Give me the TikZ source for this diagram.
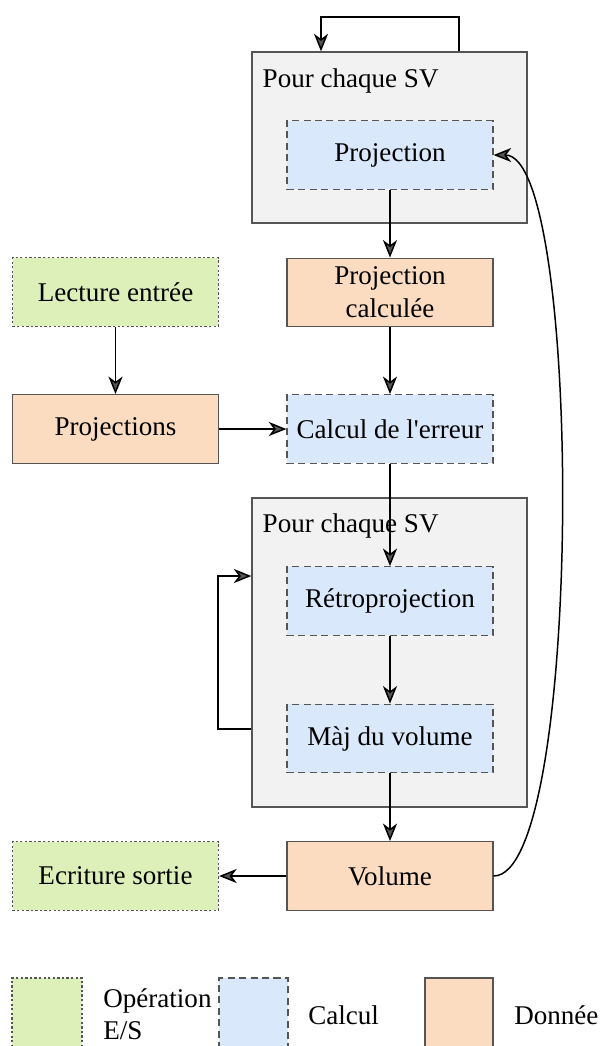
\documentclass[tikz,border=0pt]{standalone}
\usepackage{fontspec}
\setmainfont{Liberation Serif}
\usepackage{tikz}
\usetikzlibrary{
	arrows.meta,
	positioning,
	calc
}
\usepackage{xcolor}

\definecolor{ioGreen}{HTML}{DEF0B9}
\definecolor{calcBlue}{HTML}{DAE8FC}
\definecolor{dataOrange}{HTML}{FBDCC0}
\definecolor{groupGrey}{HTML}{F2F2F2}
\definecolor{edgeGrey}{HTML}{555555}

\tikzset{
	box/.style={rectangle, draw=edgeGrey, line width=0.75pt, minimum width=4.12cm, minimum height=1.37cm, inner sep=2pt, align=center, font=\fontsize{15.4}{18.7}\selectfont},
	iobox/.style={box, fill=ioGreen, dash pattern=on 1.3pt off 1.3pt},
	calcbox/.style={box, fill=calcBlue, dash pattern=on 4pt off 2.5pt},
	databox/.style={box, fill=dataOrange},
	groupbox/.style={rectangle, draw=edgeGrey, fill=groupGrey, line width=0.75pt, minimum width=5.5cm},
	grouplabel/.style={anchor=west, inner sep=0pt, font=\fontsize{15.4}{18.7}\selectfont},
	legendtext/.style={anchor=west, inner sep=0pt, align=left, font=\fontsize{15.4}{18.4}\selectfont},
	flow/.style={line width=0.85pt, -{Stealth[length=10pt, width=8pt, inset=3pt, fill=edgeGrey]}}
}

\begin{document}
\begin{tikzpicture}[x=0.02cm, y=-0.02cm]
		
		\clip (0,0) rectangle (601,1046);
		
		% groupes
		\node[groupbox, minimum height=3.42cm] (grp1) at (389.5,137.5) {};
		\node[grouplabel] (grp1lbl) at ([shift={(11,30)}]grp1.north west) {Pour chaque SV};
		\node[groupbox, minimum height=6.18cm] (grp2) at (389.5,652.5) {};
		\node[grouplabel] (grp2lbl) at ([shift={(11,29)}]grp2.north west) {Pour chaque SV};
		
		% noeuds
		\node[calcbox] (proj) at (390,155) {Projection};
		\node[databox] (projcalc) at (390,292.5) {Projection\\calculée};
		\node[iobox] (lecture) at (115.5,292) {Lecture entrée};
		\node[databox] (projs) at (115.5,429) {Projections};
		\node[calcbox] (calcul) at (390,429) {Calcul de l\textquotesingle erreur};
		\node[calcbox] (retro) at (390,601) {Rétroprojection};
		\node[calcbox] (maj) at (390,738.5) {Màj du volume};
		\node[databox] (volume) at (390,876) {Volume};
		\node[iobox] (ecriture) at (115.5,876) {Ecriture sortie};
		
		% fleches
		\draw[flow] (proj) -- (projcalc);
		\draw[flow] (projcalc) -- (calcul);
		\draw[flow] (lecture) -- (projs);
		\draw[flow] (projs) -- (calcul);
		\draw[flow] (calcul) -- (retro);
		\draw[flow] (retro) -- (maj);
		\draw[flow] (maj) -- (volume);
		\draw[flow] (volume) -- (ecriture);
		\draw[flow] (volume.east) .. controls +(90,0) and +(90,0) .. (proj.east);
		
		% boucles
		\coordinate (topR) at (459,17);
		\coordinate (topL) at (321,17);
		\draw[flow] (grp1.north -| topR) -- (topR) -- (topL) -- (grp1.north -| topL);
		\coordinate (loopB) at (218,729);
		\coordinate (loopT) at (218,576);
		\draw[flow] (grp2.west |- loopB) -- (loopB) -- (loopT) -- (grp2.west |- loopT);
		
		% legende
		\node[iobox, minimum width=1.4cm, minimum height=1.44cm] (legIO) at (47,1014) {};
		\node[calcbox, minimum width=1.38cm, minimum height=1.44cm] (legCalc) at (253.5,1014) {};
		\node[databox, minimum width=1.36cm, minimum height=1.44cm] (legData) at (459,1014) {};
		\node[legendtext] (legIOtxt) at (103,1014) {Opération\\E/S};
		\node[legendtext] (legCalctxt) at (308,1015) {Calcul};
		\node[legendtext] (legDatatxt) at (514,1015) {Donnée};
		
	\end{tikzpicture}
\end{document}
